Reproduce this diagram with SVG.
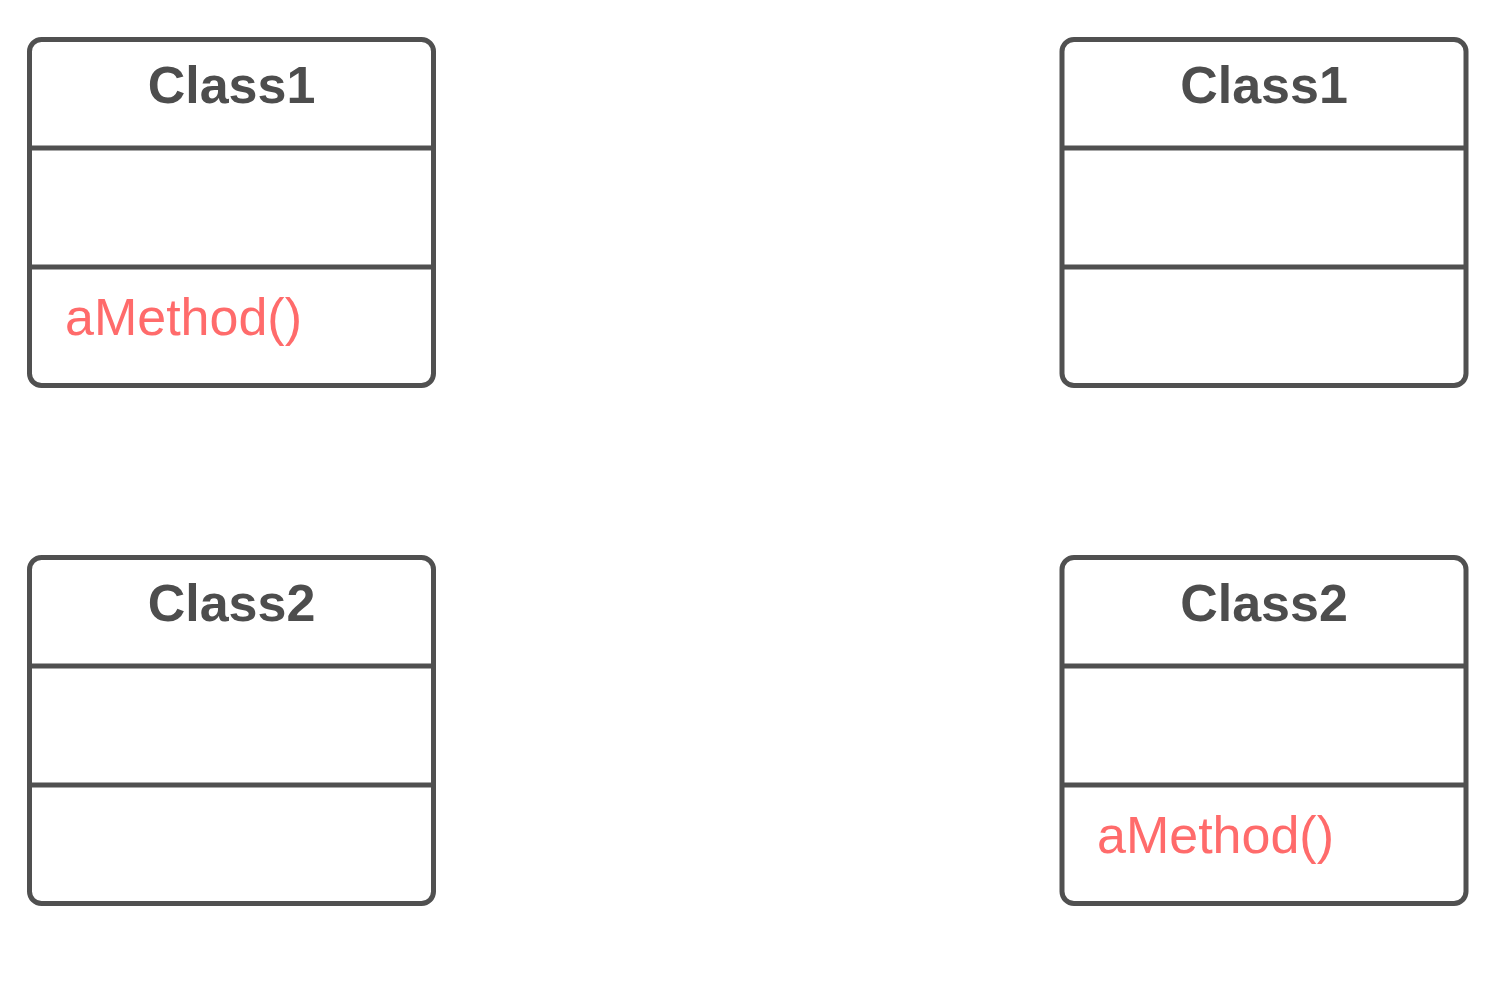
<svg xmlns="http://www.w3.org/2000/svg" width="1503" height="987" viewBox="0 0 1503 987">
<style>
.box{fill:#ffffff;stroke:#505050;stroke-width:5}
.div{stroke:#505050;stroke-width:5}
.title{font-family:"Liberation Sans",Arial,sans-serif;font-weight:bold;font-size:52px;fill:#4d4d4d;text-anchor:middle}
.meth{font-family:"Liberation Sans",Arial,sans-serif;font-size:52px;fill:#ff6b6b}
</style>
<rect width="1503" height="987" fill="#ffffff"/>
<g id="class1-left">
<rect class="box" x="29.5" y="39.5" width="404" height="346" rx="12"/>
<line class="div" x1="29.5" y1="148" x2="433.5" y2="148"/>
<line class="div" x1="29.5" y1="267" x2="433.5" y2="267"/>
<text class="title" x="231.5" y="103">Class1</text>
<text class="meth" x="65" y="335">aMethod()</text>
</g>
<g id="class2-left">
<rect class="box" x="29.5" y="557.5" width="404" height="346" rx="12"/>
<line class="div" x1="29.5" y1="666" x2="433.5" y2="666"/>
<line class="div" x1="29.5" y1="785" x2="433.5" y2="785"/>
<text class="title" x="231.5" y="621">Class2</text>
</g>
<g id="class1-right">
<rect class="box" x="1062" y="39.5" width="404" height="346" rx="12"/>
<line class="div" x1="1062" y1="148" x2="1466" y2="148"/>
<line class="div" x1="1062" y1="267" x2="1466" y2="267"/>
<text class="title" x="1264" y="103">Class1</text>
</g>
<g id="class2-right">
<rect class="box" x="1062" y="557.5" width="404" height="346" rx="12"/>
<line class="div" x1="1062" y1="666" x2="1466" y2="666"/>
<line class="div" x1="1062" y1="785" x2="1466" y2="785"/>
<text class="title" x="1264" y="621">Class2</text>
<text class="meth" x="1097" y="853">aMethod()</text>
</g>
<g id="connectors"/>
</svg>
